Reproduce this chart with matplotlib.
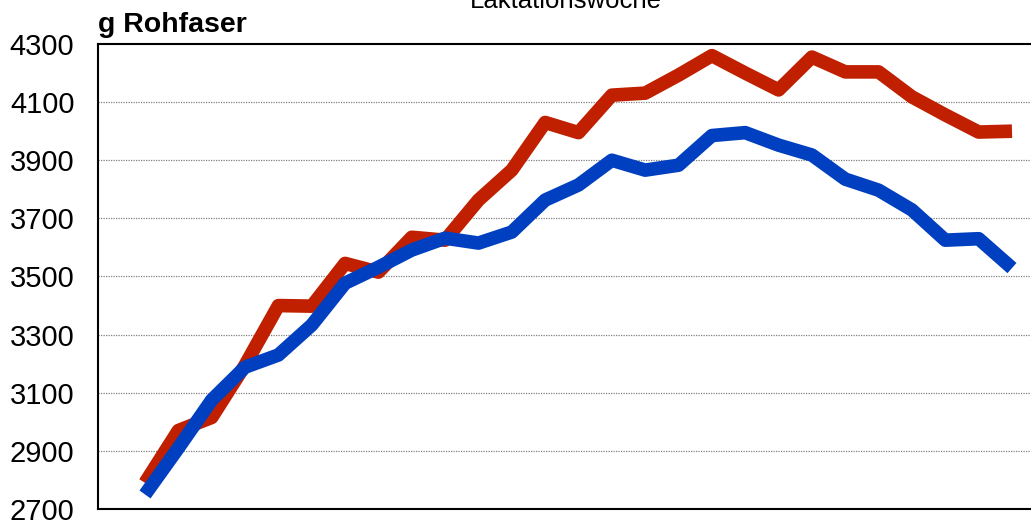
"""
Rohfaseraufnahme je Laktationswoche
"""

import numpy as np
import matplotlib.pyplot as plt

plt.rcParams['font.family'] = ['Liberation Sans', 'DejaVu Sans']

###############################################################################
# Data
weeks = np.arange(1, 28)
red_vals = [2790, 2970, 3015, 3195, 3400, 3398, 3545, 3515, 3635, 3625,
            3763, 3866, 4030, 3995, 4124, 4131, 4193, 4260, 4200, 4142,
            4255, 4204, 4204, 4118, 4056, 3997, 4000]
blue_vals = [2750, 2910, 3075, 3188, 3230, 3333, 3477, 3532, 3591, 3632,
             3615, 3653, 3763, 3815, 3900, 3866, 3883, 3985, 3995, 3952,
             3918, 3835, 3797, 3729, 3625, 3630, 3529]
y_ticks = [2700, 2900, 3100, 3300, 3500, 3700, 3900, 4100, 4300]

###############################################################################
# Plot
W, H = 1031, 529
fig = plt.figure(figsize=[W / 100, H / 100], dpi=100)
ax = fig.add_axes([98 / W, (H - 509) / H, 1 - 98 / W, (509 - 44) / H])

ax.plot(weeks, red_vals, color='#C02000', lw=9.8,
        solid_joinstyle='round', solid_capstyle='butt', zorder=3)
ax.plot(weeks, blue_vals, color='#0040C0', lw=9.8,
        solid_joinstyle='round', solid_capstyle='butt', zorder=4)

ax.set_ylim(2700, 4300)
ax.set_xlim(-0.41, 27.57)
ax.set_yticks(y_ticks, labels=[str(v) for v in y_ticks], fontsize=21)
ax.set_xticks([])
ax.tick_params(axis='y', length=0, pad=17)
for v in y_ticks[1:-1]:
    ax.axhline(v, color='#808080', lw=0.9, ls=(0, (1, 1)), zorder=1)

ax.spines['right'].set_visible(False)
for s in ['left', 'top', 'bottom']:
    ax.spines[s].set_linewidth(1.5)
    ax.spines[s].set_color('black')

fig.text(98 / W, (H - 32) / H, 'g Rohfaser', fontsize=20.5, fontweight='bold',
         ha='left', va='baseline')
fig.text(566 / W, (H - 8) / H, 'Laktationswoche', fontsize=18.5,
         ha='center', va='baseline')

plt.savefig('out.png', dpi=100)
plt.close()
